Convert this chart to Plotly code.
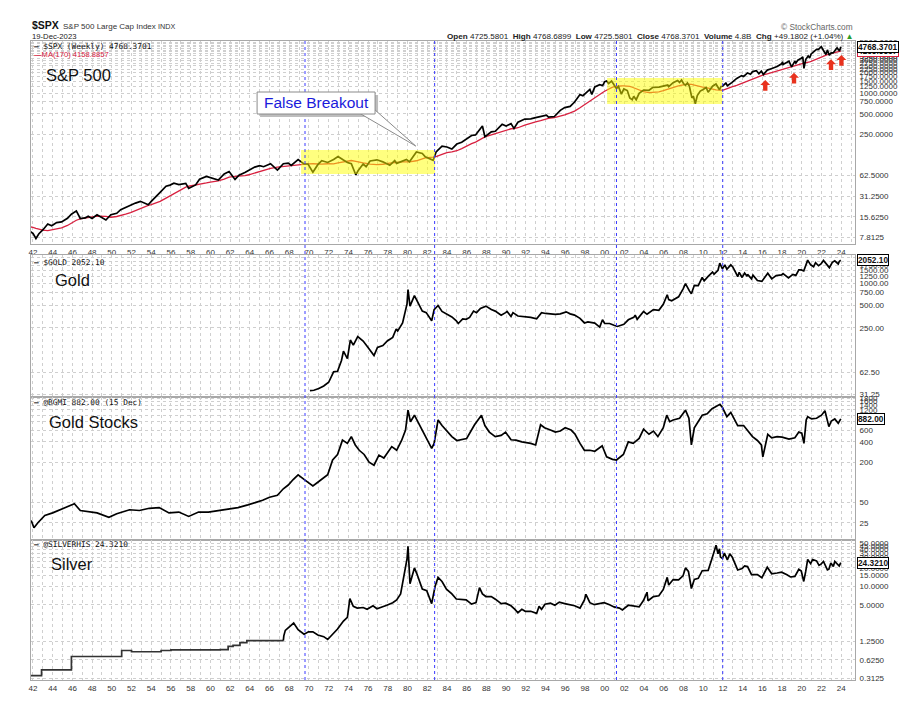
import numpy as np
import pandas as pd
import plotly.graph_objects as go

# ---------------- data (decimal year, value) ----------------
spx = [(1938.5, 11.5), (1939.0, 12.5), (1939.6, 11.5), (1940.3, 12.2), (1940.45, 9.4), (1940.95, 10.6),
       (1941.5, 10.0), (1941.82, 9.4), (1942.0, 8.9), (1942.3, 7.5), (1942.6, 8.8), (1943.0, 10.0),
       (1943.5, 12.2), (1943.9, 11.5), (1944.4, 12.8), (1944.9, 13.1), (1945.5, 14.8), (1945.9, 17.0),
       (1946.4, 19.0), (1946.8, 14.7), (1947.3, 15.0), (1947.6, 15.9), (1948.0, 14.7), (1948.5, 16.7),
       (1949.4, 14.0), (1949.9, 16.7), (1950.5, 17.5), (1950.9, 19.8), (1951.4, 21.5), (1951.9, 23.3),
       (1952.4, 24.7), (1952.9, 26.2), (1953.7, 23.3), (1954.0, 26.1), (1954.5, 30.5), (1954.9, 35.5),
       (1955.5, 43.5), (1955.9, 45.2), (1956.3, 48.3), (1956.8, 46.0), (1957.5, 48.0), (1957.8, 40.4),
       (1958.5, 45.5), (1958.9, 55.0), (1959.6, 60.5), (1960.0, 58.0), (1960.8, 53.5), (1961.4, 66.0),
       (1961.9, 71.5), (1962.5, 54.8), (1962.9, 63.0), (1963.5, 69.0), (1963.9, 75.0), (1964.5, 83.0),
       (1965.0, 87.0), (1965.4, 84.0), (1966.1, 93.0), (1966.8, 75.0), (1967.4, 93.0), (1967.9, 95.0),
       (1968.2, 88.0), (1968.9, 107.0), (1969.5, 92.0), (1969.9, 92.0), (1970.4, 70.0), (1970.9, 90.0),
       (1971.3, 103.0), (1971.9, 97.0), (1972.5, 107.0), (1972.95, 118.0), (1973.5, 105.0), (1973.9, 97.0),
       (1974.3, 93.0), (1974.75, 64.0), (1975.0, 74.0), (1975.5, 92.0), (1975.8, 84.0), (1976.2, 102.0),
       (1976.9, 106.0), (1977.5, 99.0), (1978.2, 88.0), (1978.7, 103.0), (1978.9, 94.0), (1979.5, 103.0),
       (1979.9, 107.0), (1980.2, 99.0), (1980.9, 138.0), (1981.5, 131.0), (1981.8, 117.0), (1982.6, 104.0),
       (1982.9, 138.0), (1983.5, 168.0), (1984.0, 163.0), (1984.5, 152.0), (1985.0, 180.0), (1985.5, 191.0),
       (1985.9, 210.0), (1986.5, 240.0), (1986.9, 245.0), (1987.6, 330.0), (1987.85, 230.0), (1988.5, 272.0),
       (1988.9, 277.0), (1989.6, 350.0), (1990.0, 330.0), (1990.5, 358.0), (1990.8, 305.0), (1991.2, 375.0),
       (1991.9, 417.0), (1992.5, 420.0), (1993.0, 438.0), (1993.5, 450.0), (1994.1, 475.0), (1994.3, 445.0),
       (1994.9, 455.0), (1995.5, 560.0), (1995.95, 615.0), (1996.5, 640.0), (1996.95, 740.0), (1997.5, 950.0),
       (1997.8, 915.0), (1998.5, 1130.0), (1998.7, 960.0), (1999.0, 1230.0), (1999.5, 1330.0), (1999.8, 1290.0),
       (2000.0, 1470.0), (2000.2, 1500.0), (2000.4, 1380.0), (2000.7, 1500.0), (2000.95, 1320.0), (2001.2, 1160.0),
       (2001.4, 1250.0), (2001.7, 965.0), (2001.95, 1150.0), (2002.3, 1090.0), (2002.55, 850.0), (2002.8, 800.0),
       (2002.95, 900.0), (2003.2, 800.0), (2003.5, 990.0), (2003.95, 1110.0), (2004.5, 1100.0), (2004.9, 1210.0),
       (2005.5, 1220.0), (2005.95, 1255.0), (2006.4, 1310.0), (2006.5, 1240.0), (2006.95, 1420.0), (2007.4, 1530.0),
       (2007.6, 1430.0), (2007.8, 1550.0), (2008.0, 1380.0), (2008.2, 1300.0), (2008.4, 1410.0), (2008.6, 1260.0),
       (2008.85, 850.0), (2009.0, 900.0), (2009.2, 700.0), (2009.4, 920.0), (2009.7, 1070.0), (2009.95, 1120.0),
       (2010.3, 1210.0), (2010.5, 1030.0), (2010.95, 1260.0), (2011.3, 1360.0), (2011.65, 1120.0), (2011.8, 1250.0),
       (2011.95, 1260.0), (2012.3, 1400.0), (2012.45, 1280.0), (2012.9, 1420.0), (2013.4, 1640.0), (2013.9, 1800.0),
       (2014.1, 1750.0), (2014.5, 1970.0), (2014.8, 1890.0), (2015.0, 2060.0), (2015.4, 2120.0), (2015.65, 1920.0),
       (2015.9, 2090.0), (2016.1, 1870.0), (2016.5, 2170.0), (2016.9, 2270.0), (2017.5, 2440.0), (2017.95, 2680.0),
       (2018.05, 2870.0), (2018.1, 2620.0), (2018.7, 2930.0), (2018.97, 2420.0), (2019.3, 2940.0), (2019.4, 2750.0),
       (2019.6, 3020.0), (2019.95, 3230.0), (2020.1, 3380.0), (2020.22, 2300.0), (2020.4, 3100.0), (2020.65, 3500.0),
       (2020.8, 3270.0), (2020.95, 3730.0), (2021.5, 4370.0), (2021.7, 4350.0), (2021.98, 4770.0), (2022.2, 4200.0),
       (2022.45, 3670.0), (2022.6, 4280.0), (2022.78, 3580.0), (2022.95, 3840.0), (2023.2, 3900.0), (2023.5, 4450.0),
       (2023.58, 4580.0), (2023.83, 4120.0), (2023.96, 4768.37)]

gold = [(1970.1, 35.0), (1970.5, 35.5), (1971.0, 37.5), (1971.5, 40.5), (1972.0, 45.5), (1972.5, 63.0),
        (1972.9, 64.0), (1973.3, 90.0), (1973.5, 120.0), (1973.9, 95.0), (1974.2, 170.0), (1974.5, 145.0),
        (1974.95, 190.0), (1975.5, 165.0), (1975.9, 140.0), (1976.6, 105.0), (1976.95, 135.0), (1977.5, 143.0),
        (1977.95, 165.0), (1978.5, 185.0), (1978.85, 240.0), (1979.0, 225.0), (1979.5, 290.0), (1979.75, 400.0),
        (1979.95, 525.0), (1980.05, 820.0), (1980.2, 560.0), (1980.25, 490.0), (1980.7, 680.0), (1980.95, 590.0),
        (1981.5, 420.0), (1981.9, 400.0), (1982.45, 310.0), (1982.7, 440.0), (1983.1, 500.0), (1983.5, 415.0),
        (1983.9, 385.0), (1984.5, 350.0), (1984.95, 310.0), (1985.15, 285.0), (1985.6, 330.0), (1985.95, 325.0),
        (1986.3, 345.0), (1986.7, 420.0), (1987.0, 400.0), (1987.4, 455.0), (1987.95, 490.0), (1988.5, 440.0),
        (1988.9, 420.0), (1989.5, 370.0), (1989.95, 400.0), (1990.1, 415.0), (1990.5, 355.0), (1990.7, 400.0),
        (1991.2, 360.0), (1991.9, 355.0), (1992.5, 345.0), (1993.1, 330.0), (1993.6, 400.0), (1994.0, 390.0),
        (1994.5, 385.0), (1995.0, 380.0), (1995.5, 385.0), (1996.1, 410.0), (1996.5, 385.0), (1996.95, 370.0),
        (1997.5, 335.0), (1997.95, 290.0), (1998.3, 300.0), (1998.5, 295.0), (1999.0, 288.0), (1999.5, 255.0),
        (1999.78, 320.0), (2000.0, 285.0), (2000.5, 285.0), (2000.95, 270.0), (2001.3, 260.0), (2001.95, 278.0),
        (2002.4, 320.0), (2002.95, 345.0), (2003.1, 370.0), (2003.3, 325.0), (2003.95, 415.0), (2004.3, 380.0),
        (2004.95, 440.0), (2005.5, 430.0), (2005.95, 520.0), (2006.35, 700.0), (2006.5, 600.0), (2006.8, 580.0),
        (2007.5, 655.0), (2007.95, 835.0), (2008.2, 990.0), (2008.6, 790.0), (2008.8, 720.0), (2009.1, 940.0),
        (2009.5, 930.0), (2009.9, 1200.0), (2010.1, 1080.0), (2010.5, 1240.0), (2010.95, 1420.0), (2011.1, 1330.0),
        (2011.5, 1500.0), (2011.68, 1880.0), (2011.95, 1570.0), (2012.2, 1780.0), (2012.4, 1550.0), (2012.8, 1780.0),
        (2013.0, 1670.0), (2013.3, 1400.0), (2013.5, 1230.0), (2013.65, 1410.0), (2013.95, 1200.0), (2014.2, 1380.0),
        (2014.45, 1250.0), (2014.5, 1320.0), (2014.9, 1150.0), (2015.05, 1290.0), (2015.5, 1090.0), (2015.95, 1060.0),
        (2016.3, 1240.0), (2016.55, 1370.0), (2016.95, 1150.0), (2017.4, 1270.0), (2017.95, 1300.0), (2018.1, 1355.0),
        (2018.65, 1180.0), (2019.1, 1320.0), (2019.4, 1280.0), (2019.7, 1520.0), (2019.95, 1520.0), (2020.2, 1470.0),
        (2020.6, 2060.0), (2020.9, 1780.0), (2021.2, 1680.0), (2021.4, 1900.0), (2021.7, 1730.0), (2021.95, 1830.0),
        (2022.2, 2040.0), (2022.5, 1810.0), (2022.8, 1630.0), (2023.1, 1920.0), (2023.35, 2020.0), (2023.7, 1830.0),
        (2023.8, 1980.0), (2023.96, 2052.10)]

bgmi = [(1941.82, 27), (1942.1, 21), (1942.5, 25), (1943.2, 32), (1944.0, 35), (1944.7, 39), (1945.5, 44),
        (1946.2, 48), (1946.8, 38), (1947.7, 36), (1948.5, 35), (1949.7, 30), (1950.5, 34), (1951.8, 39),
        (1952.8, 38), (1953.8, 41), (1954.8, 42), (1955.8, 35), (1956.8, 36), (1957.8, 31), (1958.8, 36),
        (1959.8, 36), (1960.8, 38), (1961.8, 40), (1962.8, 42), (1963.8, 46), (1964.6, 50), (1965.3, 54),
        (1966.0, 60), (1966.8, 64), (1967.4, 80), (1967.9, 91), (1968.4, 110), (1968.9, 129), (1969.6, 108),
        (1970.4, 88), (1970.9, 100), (1971.4, 115), (1971.9, 130), (1972.4, 215), (1972.9, 260), (1973.4, 425),
        (1973.9, 380), (1974.3, 480), (1974.7, 360), (1975.1, 300), (1975.6, 260), (1976.1, 200), (1976.6, 180),
        (1977.1, 254), (1977.6, 230), (1978.4, 340), (1978.9, 300), (1979.4, 420), (1979.8, 600), (1980.05, 1190),
        (1980.3, 800), (1980.7, 1000), (1980.95, 850), (1981.4, 600), (1981.9, 455), (1982.45, 320), (1982.7, 380),
        (1983.1, 850), (1983.5, 700), (1983.9, 600), (1984.5, 480), (1985.0, 420), (1985.4, 430), (1986.0, 450),
        (1986.8, 720), (1987.5, 1000), (1987.85, 700), (1988.3, 560), (1988.9, 480), (1989.5, 500), (1989.95, 560),
        (1990.5, 430), (1991.0, 425), (1991.6, 400), (1992.5, 380), (1993.0, 360), (1993.5, 720), (1993.9, 650),
        (1994.5, 600), (1995.0, 560), (1995.5, 580), (1996.0, 650), (1996.6, 600), (1997.0, 520), (1997.5, 380),
        (1997.95, 300), (1998.5, 300), (1999.0, 290), (1999.75, 350), (2000.2, 240), (2000.8, 220), (2001.2, 215),
        (2001.9, 260), (2002.4, 400), (2002.9, 380), (2003.5, 450), (2003.95, 620), (2004.5, 520), (2004.95, 580),
        (2005.4, 480), (2005.95, 650), (2006.3, 1000), (2006.6, 800), (2006.95, 850), (2007.6, 900), (2007.95, 1050),
        (2008.2, 1190), (2008.55, 900), (2008.8, 360), (2009.1, 650), (2009.6, 850), (2009.9, 1000), (2010.4, 1050),
        (2010.9, 1250), (2011.3, 1350), (2011.7, 1450), (2011.95, 1300), (2012.4, 950), (2012.8, 1100), (2013.0, 950),
        (2013.5, 700), (2014.1, 700), (2014.5, 600), (2015.0, 480), (2015.5, 420), (2015.9, 360), (2016.05, 240),
        (2016.55, 520), (2016.95, 460), (2017.5, 480), (2018.0, 470), (2018.7, 440), (2019.3, 460), (2019.7, 560),
        (2020.0, 540), (2020.22, 380), (2020.45, 850), (2020.6, 950), (2021.0, 880), (2021.5, 900), (2022.0, 1000),
        (2022.35, 1167), (2022.75, 675), (2023.0, 820), (2023.35, 880), (2023.7, 760), (2023.96, 882.0)]

silver_steps = [(1941.8, 0.345), (1942.87, 0.43), (1945.9, 0.71), (1951.0, 0.89), (1952.0, 0.85), (1955.0, 0.89),
                (1956.0, 0.91), (1961.0, 0.92), (1961.8, 1.04), (1962.3, 1.08), (1963.0, 1.20), (1963.7, 1.29),
                (1967.4, 1.29)]
silver = [(1967.4, 1.29), (1967.45, 1.55), (1967.6, 1.9), (1967.95, 2.1), (1968.45, 2.5), (1968.9, 1.95),
          (1969.5, 1.65), (1969.95, 1.8), (1970.4, 1.8), (1970.9, 1.6), (1971.5, 1.5), (1971.9, 1.35),
          (1972.5, 1.7), (1972.9, 2.0), (1973.5, 2.7), (1973.9, 3.1), (1974.15, 6.3), (1974.5, 4.7), (1974.9, 4.4),
          (1975.5, 4.5), (1975.9, 4.2), (1976.5, 4.8), (1976.9, 4.3), (1977.5, 4.6), (1977.9, 4.9), (1978.5, 5.4),
          (1978.9, 6.0), (1979.3, 7.5), (1979.7, 16), (1979.95, 28), (1980.05, 45), (1980.2, 15), (1980.25, 11),
          (1980.7, 20), (1980.95, 16), (1981.5, 9), (1981.95, 8.5), (1982.45, 5.2), (1982.8, 10), (1983.1, 14),
          (1983.5, 12), (1983.95, 9), (1984.5, 7.5), (1984.95, 6.2), (1985.5, 6.1), (1985.95, 6.0), (1986.5, 5.1),
          (1986.95, 5.4), (1987.3, 9.5), (1987.6, 7.5), (1987.95, 6.8), (1988.5, 6.8), (1988.95, 6.1), (1989.5, 5.2),
          (1989.95, 5.3), (1990.5, 4.8), (1990.9, 4.2), (1991.2, 3.7), (1991.6, 4.2), (1991.95, 3.9), (1992.5, 3.9),
          (1993.1, 3.6), (1993.35, 4.7), (1993.6, 4.2), (1993.95, 5.1), (1994.5, 5.3), (1994.95, 4.9), (1995.4, 5.5),
          (1995.95, 5.2), (1996.5, 5.0), (1996.95, 4.8), (1997.5, 4.4), (1997.95, 6.0), (1998.1, 7.4), (1998.5, 5.4),
          (1998.95, 5.0), (1999.5, 5.2), (1999.95, 5.4), (2000.5, 5.0), (2000.95, 4.6), (2001.5, 4.4), (2001.8, 4.1),
          (2002.4, 4.9), (2002.95, 4.7), (2003.5, 4.6), (2003.95, 5.9), (2004.3, 8.0), (2004.4, 5.8), (2004.95, 6.8),
          (2005.5, 7.0), (2005.95, 8.9), (2006.35, 14.0), (2006.5, 10.5), (2006.95, 12.9), (2007.5, 12.7),
          (2007.95, 14.8), (2008.2, 20.0), (2008.5, 17.5), (2008.8, 9.2), (2009.1, 13.0), (2009.5, 13.5),
          (2009.9, 18.0), (2010.5, 18.2), (2010.95, 30.5), (2011.3, 47.0), (2011.5, 34.0), (2011.65, 41),
          (2011.75, 30), (2011.95, 28.5), (2012.15, 35), (2012.45, 27), (2012.7, 34), (2012.95, 30), (2013.3, 22),
          (2013.5, 18.5), (2013.95, 19.5), (2014.2, 21.5), (2014.5, 21), (2014.9, 15.5), (2015.5, 15.5),
          (2015.95, 13.8), (2016.5, 20.5), (2016.95, 16.0), (2017.5, 16.5), (2017.95, 17.0), (2018.5, 15.4),
          (2018.85, 14.2), (2019.3, 14.5), (2019.7, 19.0), (2019.95, 17.8), (2020.2, 12.0), (2020.4, 17.5),
          (2020.6, 27.5), (2020.9, 23.5), (2021.1, 27.5), (2021.5, 26), (2021.75, 22.0), (2021.95, 23.0),
          (2022.2, 25.5), (2022.6, 18.5), (2022.75, 19), (2022.95, 24.0), (2023.2, 21), (2023.35, 25.5),
          (2023.7, 22.5), (2023.8, 21.5), (2023.96, 24.321)]

ma_weeks = 170
year_ticks = list(range(1942, 2025, 2))
year_labels = [f"{y % 100:02d}" for y in year_ticks]
minor_years = list(range(1943, 2026, 2))

spx_ticks = [7.8125, 15.625, 31.25, 62.5, 250, 500, 750, 1000, 1250, 1500, 1750, 2000, 2250, 2500, 2750,
             3000, 3250, 3500, 3750, 4000, 4250, 4500, 4750, 5000, 5250, 5500]
gold_ticks = [31.25, 62.5, 250, 500, 750, 1000, 1250, 1500, 1750, 2000, 2250]
bgmi_ticks = [25, 50, 200, 400, 600, 800, 1000, 1200, 1400, 1600, 1800]
silver_ticks = [0.3125, 0.625, 1.25, 5, 10, 15, 20, 25, 30, 35, 40, 45, 50]

event_lines = [1969.6, 1982.75, 2001.2, 2011.98]
boxes = [(1969.2, 1982.8, 65.8, 147.6), (2000.25, 2011.95, 693, 1661)]

# ---------------- geometry helpers ----------------
W, H = 910, 706
L, R, T, B = 31, 48, 41, 26
PW, PH = W - L - R, H - T - B


def px(x):
    return (x - L) / PW


def py(y):
    return 1 - (y - T) / PH


def logrange(v0, y0, k, ytop, ybot):
    l2 = np.log10(2)
    return [np.log10(v0) - (ybot - y0) / k * l2, np.log10(v0) + (y0 - ytop) / k * l2]


def unzip(pairs):
    return [p[0] for p in pairs], [p[1] for p in pairs]


spx_x, spx_y = unzip(spx)
gold_x, gold_y = unzip(gold)
bgmi_x, bgmi_y = unzip(bgmi)
sst_x, sst_y = unzip(silver_steps)
sil_x, sil_y = unzip(silver)

# moving average (170 weeks)
wk = np.arange(spx_x[0], spx_x[-1] + 1e-9, 7 / 365.25)
wv = np.interp(wk, spx_x, spx_y)
ma_w = pd.Series(wv).rolling(ma_weeks, min_periods=1).mean().to_numpy()
ma_y = np.interp(spx_x, wk, ma_w)

FONT = "Liberation Sans"
MONO = "DejaVu Sans Mono"
LINE = dict(color="black", width=1.7)

fig = go.Figure()
fig.add_trace(go.Scatter(x=spx_x, y=ma_y, mode="lines", line=dict(color="#d8203f", width=1.3),
                         xaxis="x", yaxis="y", hoverinfo="skip"))
fig.add_trace(go.Scatter(x=spx_x, y=spx_y, mode="lines", line=LINE, xaxis="x", yaxis="y"))
for (x0, x1, y0, y1) in boxes:
    fig.add_trace(go.Scatter(x=[x0, x1, x1, x0, x0], y=[y0, y0, y1, y1, y0], mode="lines",
                             fill="toself", fillcolor="rgba(255,255,0,0.5)", line=dict(width=0),
                             xaxis="x", yaxis="y", hoverinfo="skip"))
fig.add_trace(go.Scatter(x=gold_x, y=gold_y, mode="lines", line=LINE, xaxis="x2", yaxis="y2"))
fig.add_trace(go.Scatter(x=bgmi_x, y=bgmi_y, mode="lines", line=LINE, xaxis="x3", yaxis="y3"))
fig.add_trace(go.Scatter(x=sst_x, y=sst_y, mode="lines", line=dict(color="#333", width=1.7, shape="hv"),
                         xaxis="x4", yaxis="y4"))
fig.add_trace(go.Scatter(x=sil_x, y=sil_y, mode="lines", line=LINE, xaxis="x4", yaxis="y4"))

GRID = "#cfcfcf"
FRAME = "#a8a8a8"
xr = [1941.8, 2025.4]
domains = [[py(244), py(41)], [py(397), py(255)], [py(540), py(397)], [py(680), py(540)]]
yranges = [logrange(7.8125, 237.3, 20.6, 41, 244), logrange(31.25, 394.3, 22.2, 255, 397),
           logrange(25, 522.7, 20.2, 397, 540), logrange(0.3125, 678.3, 18.4, 540, 680)]
yticks = [spx_ticks, gold_ticks, bgmi_ticks, silver_ticks]
yfmt = ["{:.4f}", "{:.2f}", "{:.0f}", "{:.4f}"]

layout = dict(width=W, height=H, margin=dict(l=L, r=R, t=T, b=B, pad=0), showlegend=False,
              paper_bgcolor="white", plot_bgcolor="white", font=dict(family=FONT, size=8, color="#222"))
for i in range(4):
    xs = "xaxis" if i == 0 else f"xaxis{i + 1}"
    ys = "yaxis" if i == 0 else f"yaxis{i + 1}"
    ya = "y" if i == 0 else f"y{i + 1}"
    xa = "x" if i == 0 else f"x{i + 1}"
    layout[xs] = dict(domain=[0, 1], anchor=ya, range=xr, tickmode="array", tickvals=year_ticks,
                      ticktext=year_labels, showticklabels=(i in (0, 3)), ticks="", showgrid=True,
                      gridcolor=GRID, griddash="dot", gridwidth=1, zeroline=False,
                      showline=True, mirror=True, linecolor=FRAME, linewidth=1,
                      tickfont=dict(family=FONT, size=8, color="#333"),
                      minor=dict(tickmode="array", tickvals=minor_years, showgrid=True, gridcolor=GRID,
                                 griddash="dot", gridwidth=1, ticks=""))
    if i > 0:
        layout[xs]["matches"] = "x"
    layout[ys] = dict(domain=domains[i], anchor=xa, type="log", side="right", range=yranges[i],
                      tickmode="array", tickvals=yticks[i], ticktext=[yfmt[i].format(v) for v in yticks[i]],
                      showgrid=True, gridcolor=GRID, griddash="dot", gridwidth=1, zeroline=False,
                      showline=True, mirror=True, linecolor=FRAME, linewidth=1, ticks="outside",
                      ticklen=2, tickcolor="white", tickfont=dict(family=FONT, size=8, color="#333"))
fig.update_layout(**layout)

# ---------------- shapes ----------------
shapes = []
for xv in event_lines:
    shapes.append(dict(type="line", xref="x", yref="paper", x0=xv, x1=xv, y0=0, y1=1,
                       line=dict(color="#3b3bff", width=1, dash="dot")))


def ppath(points):
    return "M " + " L ".join(f"{px(a):.5f},{py(b):.5f}" for a, b in points) + " Z"


# callout box
shapes.append(dict(type="rect", xref="paper", yref="paper", x0=px(262), x1=px(381), y0=py(117), y1=py(95),
                   fillcolor="#bdbdbd", line=dict(width=0)))
shapes.append(dict(type="path", xref="paper", yref="paper",
                   path=ppath([(362, 113), (419, 146), (378, 110)]),
                   fillcolor="white", line=dict(color="#8a8a8a", width=1)))
shapes.append(dict(type="rect", xref="paper", yref="paper", x0=px(259), x1=px(378), y0=py(114), y1=py(92),
                   fillcolor="white", line=dict(color="#8a8a8a", width=1)))
# red arrows
for cx, ty in [(771.5, 80), (800.5, 72.7), (837.8, 59.3), (848.3, 55)]:
    shapes.append(dict(type="path", xref="paper", yref="paper", fillcolor="#e8321e", line=dict(width=0),
                       path=ppath([(cx, ty), (cx + 5, ty + 5), (cx + 2.2, ty + 5), (cx + 2.2, ty + 10.7),
                                   (cx - 2.2, ty + 10.7), (cx - 2.2, ty + 5), (cx - 5, ty + 5)])))
fig.update_layout(shapes=shapes)

# ---------------- annotations ----------------
anns = []


def ann(x, y, text, size=8, color="#222", family=FONT, xanchor="left", **kw):
    d = dict(xref="paper", yref="paper", x=px(x), y=py(y), text=text, showarrow=False,
             font=dict(family=family, size=size, color=color), xanchor=xanchor, yanchor="middle")
    d.update(kw)
    anns.append(d)


ann(30, 25.5, "<b>$SPX</b>", size=10.5, color="#111")
ann(61, 26.3, "S&amp;P 500 Large Cap Index", size=8.0, color="#333")
ann(157, 26.3, "INDX", size=7.2, color="#333")
ann(30, 36.5, "19-Dec-2023", size=7.7, color="#222")
ann(862, 26.5, "\u00a9 StockCharts.com", size=8.3, color="#666", xanchor="right")
ann(863, 36.7, "<b>Open</b> 4725.5801  <b>High</b> 4768.6899  <b>Low</b> 4725.5801  <b>Close</b> 4768.3701  "
               "<b>Volume</b> 4.8B  <b>Chg</b> +49.1802 (+1.04%) <span style='color:#2a9d2a'>\u25b2</span>",
    size=8.1, color="#222", xanchor="right")

ann(32, 46.7, "<b>\u2014</b> $SPX (Weekly) 4768.3701", size=7.8, family=MONO, color="#111")
ann(32, 54.2, "<b>\u2014</b>MA(170) 4158.8857", size=7.6, color="#d8203f")
ann(32, 262.5, "<b>\u2014</b> $GOLD 2052.10", size=7.8, family=MONO, color="#111")
ann(32, 402, "<b>\u2014</b> @BGMI 882.00 (15 Dec)", size=7.8, family=MONO, color="#111")
ann(32, 544.5, "<b>\u2014</b> @SILVERHIS 24.3210", size=7.8, family=MONO, color="#111")

ann(44, 75, "S&amp;P 500", size=16.5, color="#111")
ann(53, 280, "Gold", size=16.5, color="#111")
ann(47, 421.5, "Gold Stocks", size=16.5, color="#111")
ann(49, 563.5, "Silver", size=16.5, color="#111")
ann(318.5, 103, "False Breakout", size=15.5, color="#1a1adb", xanchor="center")

# last-value boxes
ma_last = float(ma_y[-1])
for ya, val, txt, col in [("y", ma_last, "4158.8857", "#d8203f"), ("y", spx_y[-1], "4768.3701", "black"),
                          ("y2", gold_y[-1], "2052.10", "black"), ("y3", bgmi_y[-1], "882.00", "black"),
                          ("y4", sil_y[-1], "24.3210", "black")]:
    anns.append(dict(xref="paper", yref=ya, x=1, y=np.log10(val), text=f"<b>{txt}</b>", showarrow=False,
                     xanchor="left", yanchor="middle", xshift=2, bgcolor="white", bordercolor=col,
                     borderwidth=1, borderpad=0, font=dict(family=FONT, size=8.3, color="#111")))
fig.update_layout(annotations=anns)

fig.write_html("out.html")
